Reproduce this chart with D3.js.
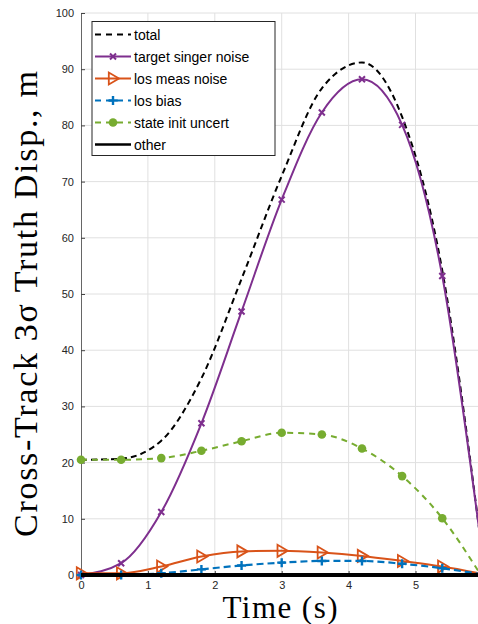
<!DOCTYPE html>
<html>
<head>
<meta charset="utf-8">
<script src="https://cdn.jsdelivr.net/npm/d3@7"></script>
<style>
  body { margin: 0; background: #fff; }
  svg { display: block; }
</style>
</head>
<body>
<div id="chart"></div>
<script>
// Time samples (markers every 0.6 s, last one is the right edge)
const times = [0, 0.6, 1.2, 1.8, 2.4, 3.0, 3.6, 4.2, 4.8, 5.4, 5.95];

// Series values
const total      = [20.5, 20.7, 23.9, 35.0, 52.7, 71.0, 86.6, 91.2, 81.5, 54.2, 8.3];
const singer     = [0.0, 2.1, 11.2, 27.0, 46.9, 66.8, 82.3, 88.2, 80.1, 53.2, 8.2];
const losMeas    = [0.3, 0.3, 1.5, 3.3, 4.2, 4.3, 4.0, 3.4, 2.5, 1.5, 0.3];
const losBias    = [0.0, 0.0, 0.3, 1.0, 1.7, 2.2, 2.5, 2.5, 2.0, 1.2, 0.2];
const stateInit  = [20.5, 20.5, 20.8, 22.1, 23.8, 25.3, 25.0, 22.5, 17.6, 10.1, 0.5];
const other      = [0, 0, 0, 0, 0, 0, 0, 0, 0, 0, 0];

const xTicks = [0, 1, 2, 3, 4, 5];
const yTicks = [0, 10, 20, 30, 40, 50, 60, 70, 80, 90, 100];

const W = 478, H = 624;
const plotLeft = 81, plotTop = 13, plotBottom = 575;

const x = d3.scaleLinear().domain([0, 6]).range([plotLeft, plotLeft + 6 * 66.9]);
const y = d3.scaleLinear().domain([0, 100]).range([plotBottom, plotTop]);

const svg = d3.select("#chart").append("svg")
  .attr("width", W)
  .attr("height", H);

// grid
svg.append("g").selectAll("line")
  .data(yTicks.filter(d => d > 0))
  .join("line")
  .attr("x1", plotLeft).attr("x2", W)
  .attr("y1", d => y(d)).attr("y2", d => y(d))
  .attr("stroke", "#e0e0e0").attr("stroke-width", 1);
svg.append("g").selectAll("line")
  .data(xTicks.filter(d => d > 0))
  .join("line")
  .attr("x1", d => x(d)).attr("x2", d => x(d))
  .attr("y1", plotTop).attr("y2", plotBottom)
  .attr("stroke", "#e0e0e0").attr("stroke-width", 1);

// axes
const yAxis = svg.append("g")
  .attr("transform", `translate(${plotLeft},0)`)
  .call(d3.axisLeft(y).tickValues(yTicks).tickFormat(d3.format("d"))
    .tickSizeInner(-4).tickSizeOuter(0).tickPadding(7));
const xAxis = svg.append("g")
  .attr("transform", `translate(0,${plotBottom})`)
  .call(d3.axisBottom(x).tickValues(xTicks).tickFormat(d3.format("d"))
    .tickSizeInner(-4).tickSizeOuter(0).tickPadding(6));
[yAxis, xAxis].forEach(a => {
  a.select(".domain").attr("stroke", "#666");
  a.selectAll(".tick line").attr("stroke", "#444");
  a.selectAll("text")
    .attr("fill", "#262626")
    .style("font-family", "'Liberation Sans', Arial, sans-serif")
    .style("font-size", "11px");
});
xAxis.select(".domain").remove();

// series definitions
const series = [
  { name: "total", vals: total, color: "#000000", dash: "6,4", width: 2, marker: null },
  { name: "target singer noise", vals: singer, color: "#7E2F8E", dash: null, width: 2, marker: "x" },
  { name: "los meas noise", vals: losMeas, color: "#D95319", dash: null, width: 2, marker: "tri" },
  { name: "los bias", vals: losBias, color: "#0072BD", dash: "7,4", width: 2.2, marker: "plus" },
  { name: "state init uncert", vals: stateInit, color: "#77AC30", dash: "6,5", width: 2, marker: "dot" },
  { name: "other", vals: other, color: "#000000", dash: null, width: 4, marker: null }
];

const line = d3.line()
  .x(d => x(d[0]))
  .y(d => y(d[1]))
  .curve(d3.curveMonotoneX);

function drawMarker(g, type, cx, cy, color) {
  if (type === "x") {
    const s = 3;
    g.append("path")
      .attr("d", `M${cx - s},${cy - s}L${cx + s},${cy + s}M${cx - s},${cy + s}L${cx + s},${cy - s}`)
      .attr("stroke", color).attr("stroke-width", 2).attr("fill", "none");
  } else if (type === "tri") {
    const s = 6;
    g.append("path")
      .attr("d", `M${cx + s},${cy}L${cx - s * 0.7},${cy - s}L${cx - s * 0.7},${cy + s}Z`)
      .attr("stroke", color).attr("stroke-width", 1.8).attr("fill", "none")
      .attr("stroke-linejoin", "miter");
  } else if (type === "plus") {
    const s = 4.5;
    g.append("path")
      .attr("d", `M${cx - s},${cy}L${cx + s},${cy}M${cx},${cy - s}L${cx},${cy + s}`)
      .attr("stroke", color).attr("stroke-width", 2.4).attr("fill", "none");
  } else if (type === "dot") {
    g.append("circle")
      .attr("cx", cx).attr("cy", cy).attr("r", 4.3)
      .attr("fill", color);
  }
}

const plot = svg.append("g");
series.forEach(s => {
  const pts = times.map((t, i) => [t, s.vals[i]]);
  plot.append("path")
    .datum(pts)
    .attr("d", line)
    .attr("fill", "none")
    .attr("stroke", s.color)
    .attr("stroke-width", s.width)
    .attr("stroke-dasharray", s.dash);
  if (s.marker) {
    const mg = plot.append("g");
    pts.slice(0, pts.length - 1).forEach(p => drawMarker(mg, s.marker, x(p[0]), y(p[1]), s.color));
  }
});

// legend
const lg = svg.append("g");
lg.append("rect")
  .attr("x", 92).attr("y", 21.5)
  .attr("width", 183).attr("height", 134)
  .attr("fill", "#fff").attr("stroke", "#262626").attr("stroke-width", 1);
series.forEach((s, i) => {
  const ly = 34.5 + i * 22;
  lg.append("line")
    .attr("x1", 95).attr("x2", 131)
    .attr("y1", ly).attr("y2", ly)
    .attr("stroke", s.color)
    .attr("stroke-width", s.name === "other" ? 2.5 : s.width)
    .attr("stroke-dasharray", s.dash ? "6,5" : null);
  if (s.marker) drawMarker(lg, s.marker, 113, ly, s.color);
  lg.append("text")
    .attr("x", 134).attr("y", ly + 5)
    .style("font-family", "'Liberation Sans', Arial, sans-serif")
    .style("font-size", "14px")
    .attr("fill", "#000")
    .text(s.name);
});

// axis titles
svg.append("text")
  .attr("x", 280).attr("y", 618)
  .attr("text-anchor", "middle")
  .attr("textLength", 115)
  .attr("lengthAdjust", "spacing")
  .style("font-family", "'Liberation Serif', 'DejaVu Serif', serif")
  .style("font-size", "31px")
  .attr("fill", "#000")
  .text("Time (s)");

svg.append("text")
  .attr("transform", "translate(37,304) rotate(-90)")
  .attr("text-anchor", "middle")
  .attr("textLength", 466)
  .attr("lengthAdjust", "spacing")
  .style("font-family", "'Liberation Serif', 'DejaVu Serif', serif")
  .style("font-size", "34px")
  .attr("fill", "#000")
  .text("Cross-Track 3\u03c3 Truth Disp., m");
</script>
</body>
</html>
